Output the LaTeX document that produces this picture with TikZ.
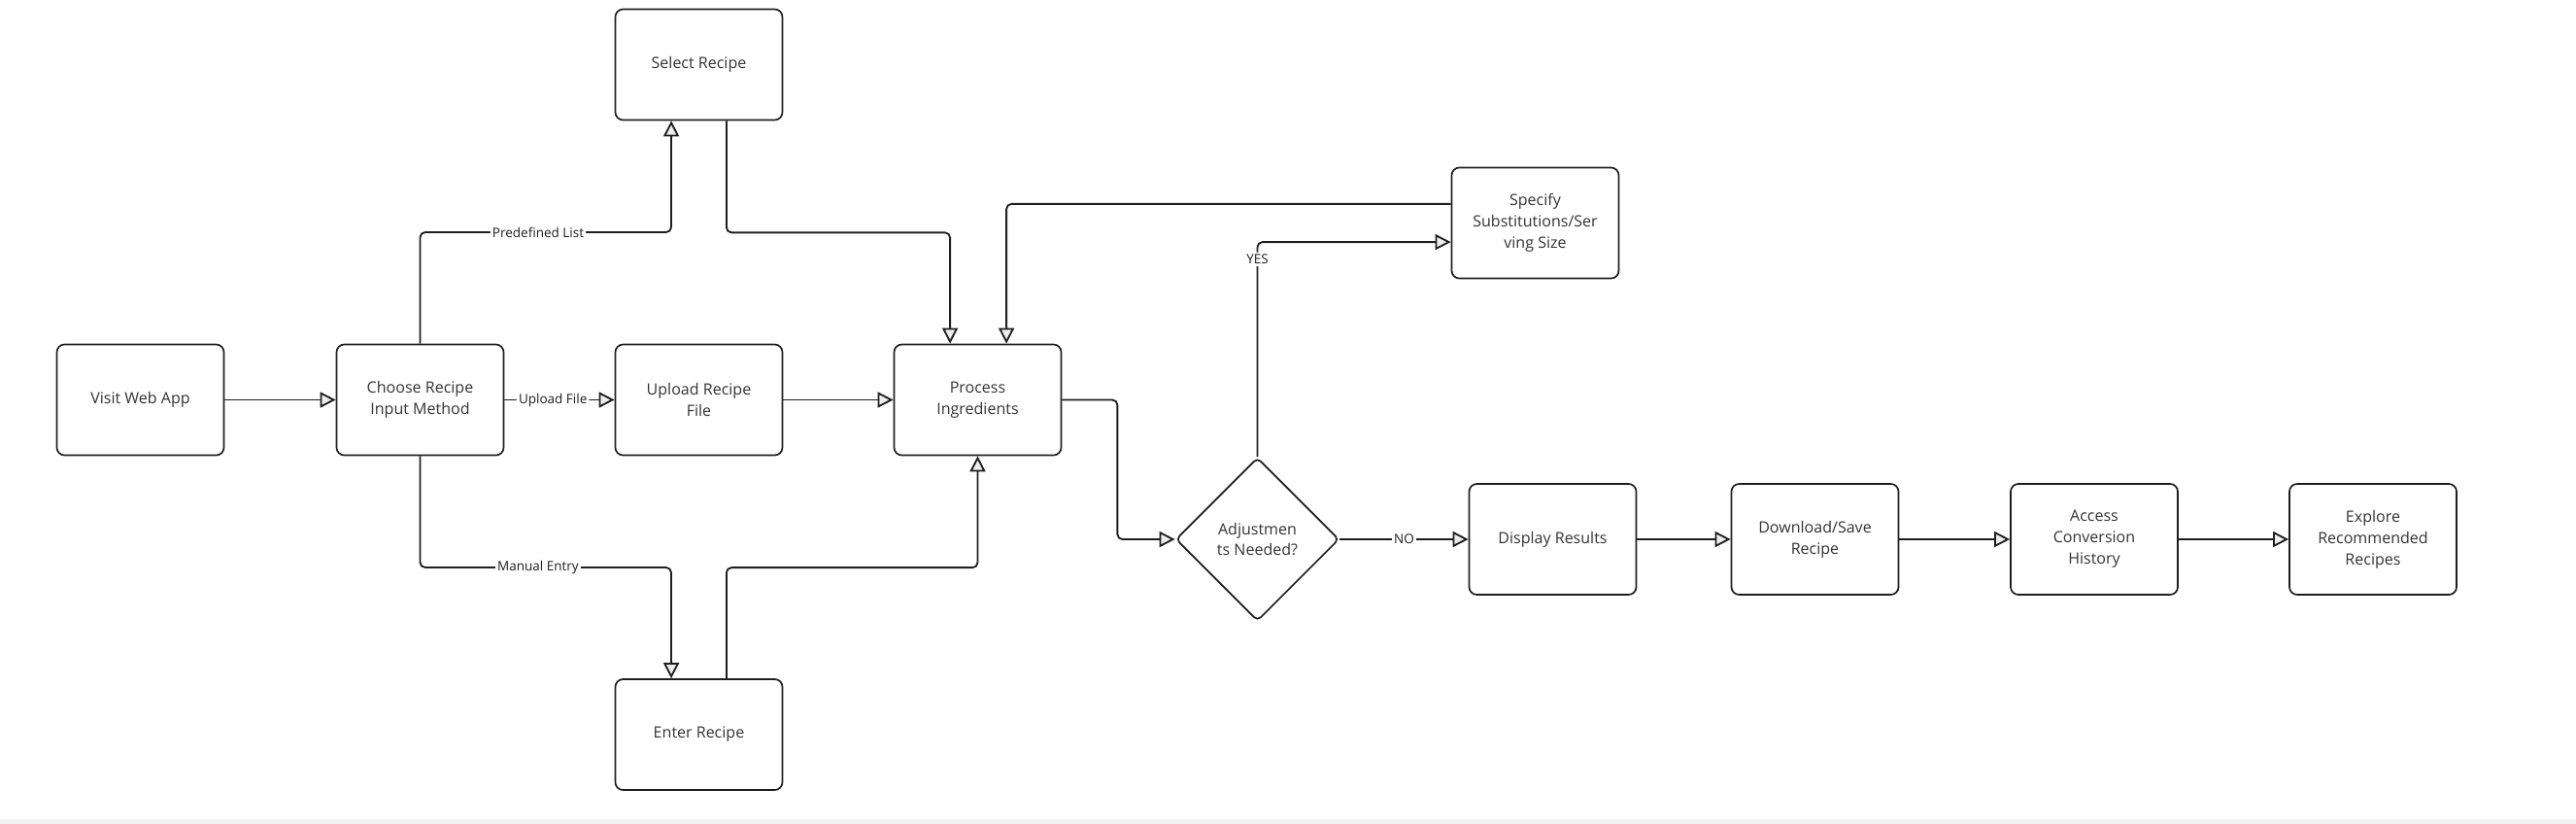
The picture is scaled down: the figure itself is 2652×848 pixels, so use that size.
\documentclass[tikz,border=0pt]{standalone}
\usepackage{fontspec}
\setmainfont{Open Sans}
\usepackage{tikz}
\usetikzlibrary{arrows.meta,shapes.geometric}

\definecolor{linegray}{HTML}{1E1E1E}
\definecolor{textgray}{HTML}{333333}
\definecolor{tipgray}{HTML}{EDEDED}
\definecolor{bandgray}{HTML}{F2F2F2}

\begin{document}
\begin{tikzpicture}[x=0.025cm, y=-0.025cm,
   stepbox/.style={draw=linegray, line width=1.2pt, rounded corners=0.2cm,
     minimum width=4.3cm, minimum height=2.85cm, align=center, text=textgray,
     font=\fontsize{11.4}{15.6}\selectfont},
   choice/.style={diamond, draw=linegray, line width=1.2pt, rounded corners=0.12cm,
     minimum width=4.2cm, minimum height=4.2cm, aspect=1, inner sep=0pt,
     align=center, text=textgray, font=\fontsize{11.4}{15.6}\selectfont},
   flow/.style={draw=linegray, line width=1.3pt, rounded corners=0.13cm,
     -{Triangle[length=0.4cm, width=0.4cm, fill=tipgray]}},
   lbl/.style={fill=white, inner sep=1.5pt, text=linegray,
     font=\fontsize{9.6}{11}\selectfont}]
   \useasboundingbox (0,0) rectangle (2652,848);
   \fill[bandgray] (0,843) rectangle (2652,848);

   \node(visit)[stepbox] at (144.5,411.5) {Visit Web App};
   \node(choose)[stepbox] at (432.5,411.5) {Choose Recipe\\Input Method};
   \node(upload)[stepbox] at (719.5,411.5) {Upload Recipe\\File};
   \node(process)[stepbox] at (1006.5,411.5) {Process\\Ingredients};
   \node(select)[stepbox] at (719.5,66.5) {Select Recipe};
   \node(enter)[stepbox] at (719.5,756) {Enter Recipe};
   \node(specify)[stepbox] at (1580.5,229.5) {Specify\\Substitutions/Ser\\ving Size};
   \node(adjust)[choice] at (1294.5,555) {Adjustmen\\ts Needed?};
   \node(display)[stepbox] at (1598.5,555) {Display Results};
   \node(download)[stepbox] at (1868.5,555) {Download/Save\\Recipe};
   \node(access)[stepbox] at (2156,555) {Access\\Conversion\\History};
   \node(explore)[stepbox] at (2443,555) {Explore\\Recommended\\Recipes};

   \draw[flow] (visit) -- (choose);
   \draw[flow] (choose.north) |- node[lbl, pos=0.735]{Predefined List}
     (691,239) -- ([xshift=-0.71cm]select.south);
   \draw[flow] ([xshift=0.71cm]select.south) -- ++(0,115)
     -| ([xshift=-0.71cm]process.north);
   \draw[flow] (choose) -- node[lbl, pos=0.44]{Upload File} (upload);
   \draw[flow] (upload) -- (process);
   \draw[flow] (choose.south) |- node[lbl, pos=0.735]{Manual Entry}
     (691,584) -- ([xshift=-0.71cm]enter.north);
   \draw[flow] ([xshift=0.71cm]enter.north) -- ++(0,-114) -| (process.south);
   \draw[flow] (process.east) -- ++(57,0) |- (adjust.west);
   \draw[flow] ([yshift=0.49cm]specify.west) -| ([xshift=0.74cm]process.north);
   \draw[flow] (adjust.north) |- node[lbl, pos=0.46]{YES}
     ([yshift=-0.49cm]specify.west);
   \draw[flow] (adjust) -- node[lbl]{NO} (display);
   \draw[flow] (display) -- (download);
   \draw[flow] (download) -- (access);
   \draw[flow] (access) -- (explore);
\end{tikzpicture}
\end{document}
